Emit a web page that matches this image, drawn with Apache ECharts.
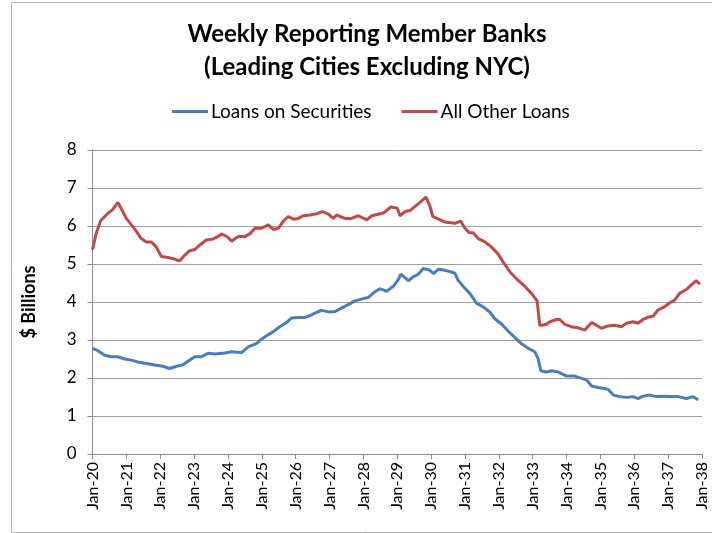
<!DOCTYPE html>
<html>
<head>
<meta charset="utf-8">
<script src="https://cdn.jsdelivr.net/npm/echarts@6/dist/echarts.min.js"></script>
<style>
  html, body { margin: 0; padding: 0; background: #fff; }
  #chart { width: 712px; height: 533px; }
</style>
</head>
<body>
<div id="chart"></div>
<script>
// Time in decimal years (1920.0 = January 1920), values in $ billions
const securitiesT = [1920.0,1920.16,1920.36,1920.56,1920.75,1920.95,1921.15,1921.34,1921.59,1921.84,1922.08,1922.28,1922.48,1922.67,1922.82,1923.02,1923.21,1923.41,1923.62,1923.91,1924.11,1924.4,1924.6,1924.85,1924.99,1925.14,1925.34,1925.53,1925.73,1925.88,1926.08,1926.27,1926.47,1926.62,1926.77,1926.98,1927.16,1927.31,1927.51,1927.75,1928.0,1928.15,1928.34,1928.49,1928.69,1928.89,1929.03,1929.1,1929.2,1929.33,1929.47,1929.62,1929.77,1929.95,1930.08,1930.21,1930.38,1930.6,1930.7,1930.8,1930.95,1931.15,1931.34,1931.54,1931.74,1931.88,1932.08,1932.28,1932.47,1932.67,1932.87,1933.06,1933.16,1933.24,1933.41,1933.56,1933.75,1934.0,1934.24,1934.44,1934.59,1934.74,1934.93,1935.08,1935.23,1935.38,1935.57,1935.77,1935.97,1936.11,1936.26,1936.46,1936.66,1936.8,1937.05,1937.3,1937.54,1937.74,1937.89];
const securitiesV = [2.78,2.72,2.6,2.56,2.56,2.5,2.47,2.42,2.38,2.34,2.31,2.25,2.31,2.35,2.44,2.56,2.56,2.65,2.63,2.66,2.69,2.67,2.82,2.91,3.02,3.11,3.22,3.35,3.46,3.58,3.59,3.59,3.66,3.73,3.78,3.74,3.75,3.82,3.91,4.03,4.09,4.12,4.27,4.35,4.28,4.42,4.59,4.73,4.66,4.56,4.66,4.73,4.88,4.84,4.75,4.86,4.84,4.79,4.76,4.57,4.41,4.22,3.97,3.87,3.73,3.56,3.42,3.23,3.07,2.9,2.78,2.69,2.51,2.19,2.16,2.19,2.16,2.05,2.05,1.99,1.95,1.79,1.75,1.73,1.7,1.55,1.51,1.49,1.51,1.46,1.52,1.55,1.51,1.52,1.51,1.51,1.46,1.51,1.42];

const otherT = [1920.0,1920.11,1920.24,1920.36,1920.48,1920.6,1920.75,1920.87,1921.0,1921.15,1921.3,1921.44,1921.59,1921.74,1921.88,1922.03,1922.18,1922.38,1922.57,1922.72,1922.87,1923.02,1923.17,1923.36,1923.52,1923.66,1923.81,1923.96,1924.11,1924.26,1924.35,1924.5,1924.65,1924.8,1924.99,1925.19,1925.34,1925.49,1925.63,1925.78,1925.93,1926.08,1926.22,1926.42,1926.62,1926.78,1926.97,1927.11,1927.21,1927.31,1927.46,1927.65,1927.85,1928.1,1928.25,1928.44,1928.59,1928.81,1929.0,1929.08,1929.23,1929.38,1929.52,1929.67,1929.85,1929.97,1930.05,1930.22,1930.36,1930.46,1930.7,1930.87,1931.0,1931.13,1931.24,1931.39,1931.59,1931.78,1931.98,1932.13,1932.33,1932.52,1932.77,1932.97,1933.13,1933.21,1933.39,1933.51,1933.7,1933.8,1933.95,1934.14,1934.34,1934.54,1934.74,1934.88,1935.03,1935.23,1935.42,1935.62,1935.77,1935.97,1936.11,1936.26,1936.41,1936.56,1936.7,1936.9,1937.05,1937.19,1937.34,1937.54,1937.69,1937.82,1937.94];
const otherV = [5.38,5.81,6.14,6.25,6.35,6.44,6.62,6.42,6.2,6.03,5.85,5.67,5.58,5.58,5.45,5.2,5.18,5.14,5.08,5.23,5.35,5.38,5.5,5.63,5.65,5.7,5.79,5.73,5.6,5.7,5.73,5.72,5.8,5.94,5.94,6.03,5.91,5.94,6.12,6.25,6.18,6.2,6.27,6.29,6.32,6.38,6.31,6.2,6.29,6.25,6.2,6.2,6.27,6.16,6.27,6.31,6.34,6.5,6.47,6.27,6.38,6.41,6.51,6.62,6.76,6.51,6.25,6.18,6.12,6.1,6.07,6.13,5.94,5.82,5.82,5.67,5.58,5.45,5.26,5.05,4.79,4.61,4.41,4.22,4.03,3.38,3.41,3.48,3.54,3.54,3.41,3.35,3.32,3.26,3.46,3.39,3.31,3.37,3.39,3.35,3.44,3.48,3.44,3.54,3.6,3.63,3.79,3.88,3.98,4.05,4.23,4.33,4.45,4.56,4.47];

const seriesNames = ['Loans on Securities', 'All Other Loans'];
const titleLines = ['Weekly Reporting Member Banks', '(Leading Cities Excluding NYC)'];
const yAxisName = '$ Billions';

const FONT = 'Lato, "Open Sans", sans-serif';
const zip = (t, v) => t.map((x, i) => [x, v[i]]);

const chart = echarts.init(document.getElementById('chart'), null, { renderer: 'canvas' });
chart.setOption({
  animation: false,
  backgroundColor: '#fff',
  textStyle: { fontFamily: FONT },
  graphic: [
    { type: 'rect', shape: { x: 11.5, y: 2.5, width: 720, height: 530 },
      style: { fill: 'none', stroke: '#b5b5b5', lineWidth: 1 }, silent: true },
    { type: 'text', x: 367, y: 34, style: { text: titleLines[0], fontFamily: FONT, fontWeight: 'bold',
      fontSize: 24, fill: '#000', textAlign: 'center', textVerticalAlign: 'middle' } },
    { type: 'text', x: 367, y: 67, style: { text: titleLines[1], fontFamily: FONT, fontWeight: 'bold',
      fontSize: 24, fill: '#000', textAlign: 'center', textVerticalAlign: 'middle' } }
  ],
  legend: {
    left: 167, top: 97,
    icon: 'rect', itemWidth: 36, itemHeight: 3, itemGap: 30,
    textStyle: { fontFamily: FONT, fontSize: 19, color: '#000', padding: [0, 0, 0, -2] },
    data: seriesNames
  },
  grid: { left: 92.5, right: 10, top: 150, bottom: 79, containLabel: false },
  xAxis: {
    type: 'value', min: 1920, max: 1938, interval: 1,
    axisLine: { lineStyle: { color: '#8c8c8c', width: 1 } },
    axisTick: { show: true, length: 5, lineStyle: { color: '#8c8c8c' } },
    splitLine: { show: false },
    axisLabel: {
      rotate: 90, margin: 8, fontSize: 16, color: '#000', fontFamily: FONT,
      formatter: v => 'Jan-' + String(v).slice(2)
    }
  },
  yAxis: {
    type: 'value', min: 0, max: 8, interval: 1,
    name: yAxisName, nameLocation: 'middle', nameGap: 54, nameRotate: 90,
    nameTextStyle: { fontFamily: FONT, fontWeight: 'bold', fontSize: 18, color: '#000' },
    axisLine: { show: true, lineStyle: { color: '#8c8c8c', width: 1 } },
    axisTick: { show: true, length: 5, lineStyle: { color: '#8c8c8c' } },
    splitLine: { lineStyle: { color: '#a0a0a0', width: 1 } },
    axisLabel: { margin: 16, fontSize: 17, color: '#000', fontFamily: FONT }
  },
  series: [
    { name: seriesNames[0], type: 'line', data: zip(securitiesT, securitiesV),
      showSymbol: false, symbol: 'none', smooth: false,
      lineStyle: { color: '#4A7EBB', width: 3 }, itemStyle: { color: '#4A7EBB' } },
    { name: seriesNames[1], type: 'line', data: zip(otherT, otherV),
      showSymbol: false, symbol: 'none', smooth: false,
      lineStyle: { color: '#BE4B48', width: 3 }, itemStyle: { color: '#BE4B48' } }
  ]
});
</script>
</body>
</html>
